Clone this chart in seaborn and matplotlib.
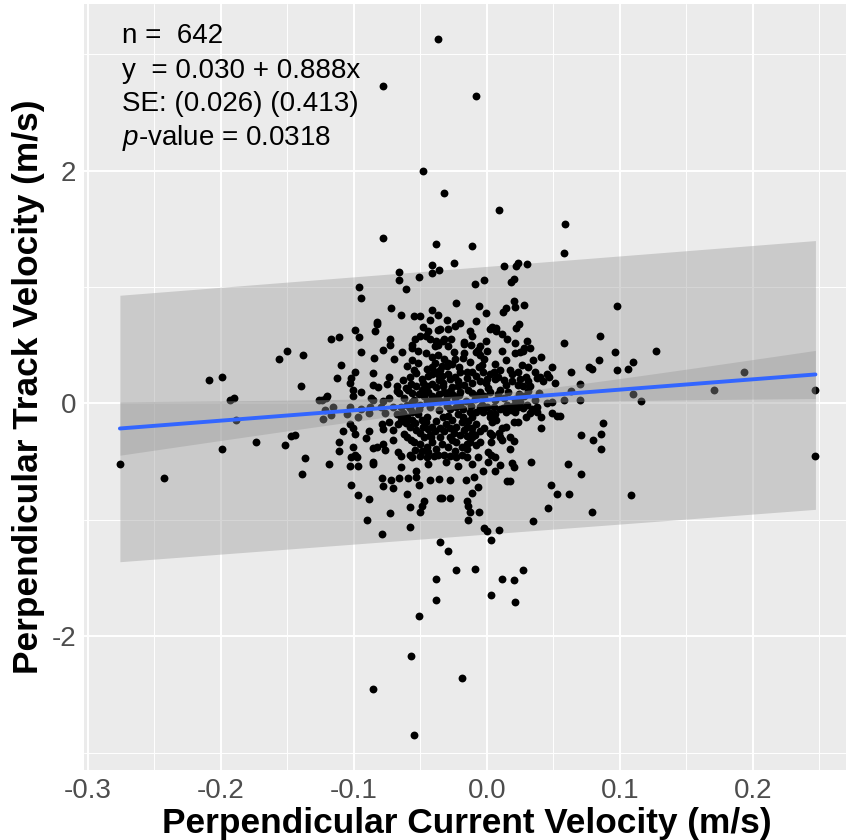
import numpy as np
import pandas as pd
import matplotlib
matplotlib.use("Agg")
import matplotlib.pyplot as plt
import matplotlib.ticker as mticker
import seaborn as sns

# --- 1. Data: (current velocity, track velocity) in m/s ---

top_outliers = [(-0.037, 3.13), (-0.078, 2.73), (-0.008, 2.64), (-0.048, 2.00), (-0.032, 1.81),
                (0.009, 1.66), (0.059, 1.54), (-0.078, 1.42), (-0.038, 1.37), (-0.011, 1.35)]

bottom_outliers = [(-0.038, -1.51), (-0.023, -1.43), (-0.009, -1.42), (0.011, -1.51), (0.020, -1.52),
                   (0.027, -1.43), (-0.038, -1.69), (0.003, -1.65), (0.021, -1.71), (-0.051, -1.83),
                   (-0.057, -2.17), (-0.019, -2.36), (-0.086, -2.45), (-0.055, -2.85)]

left_points = [(-0.150, 0.45), (-0.156, 0.38), (-0.138, 0.42), (-0.209, 0.20), (-0.199, 0.23),
               (-0.140, 0.15), (-0.193, 0.03), (-0.190, 0.05), (-0.189, -0.14), (-0.126, 0.03),
               (-0.174, -0.33), (-0.199, -0.39), (-0.152, -0.36), (-0.147, -0.28), (-0.144, -0.27),
               (-0.137, -0.47), (-0.139, -0.61), (-0.276, -0.52), (-0.243, -0.64)]

right_points = [(0.058, 1.29), (0.098, 0.84), (0.085, 0.58), (0.058, 0.52), (0.096, 0.44),
                (0.127, 0.45), (0.084, 0.37), (0.110, 0.36), (0.079, 0.30), (0.077, 0.31),
                (0.098, 0.29), (0.106, 0.30), (0.063, 0.27), (0.070, 0.17), (0.063, 0.11),
                (0.058, 0.03), (0.070, 0.03), (0.110, 0.08), (0.116, 0.02), (0.171, 0.12),
                (0.193, 0.27), (0.247, 0.12), (0.247, -0.45), (0.055, -0.11), (0.087, -0.17),
                (0.086, -0.26), (0.071, -0.27), (0.080, -0.31), (0.086, -0.39), (0.061, -0.52),
                (0.071, -0.61), (0.062, -0.78), (0.108, -0.79), (0.079, -0.93)]

upper_left_core = [(-0.041, 1.19), (-0.036, 1.15), (-0.041, 1.12), (-0.066, 1.13), (-0.066, 1.06),
                   (-0.051, 1.09), (-0.061, 0.98), (-0.096, 1.00), (-0.095, 0.91), (-0.072, 0.82),
                   (-0.065, 0.76), (-0.055, 0.75), (-0.050, 0.75), (-0.041, 0.80), (-0.037, 0.76),
                   (-0.043, 0.72), (-0.083, 0.70), (-0.083, 0.68), (-0.099, 0.63), (-0.084, 0.62),
                   (-0.096, 0.57), (-0.117, 0.55), (-0.111, 0.57), (-0.073, 0.55), (-0.073, 0.50),
                   (-0.078, 0.46), (-0.095, 0.44), (-0.085, 0.39), (-0.110, 0.33), (-0.113, 0.22),
                   (-0.099, 0.27), (-0.102, 0.22), (-0.103, 0.18), (-0.101, 0.12), (-0.095, 0.10),
                   (-0.086, 0.26), (-0.086, 0.16), (-0.082, 0.14), (-0.074, 0.23), (-0.075, 0.17),
                   (-0.120, 0.06), (-0.050, 0.58), (-0.054, 0.55), (-0.056, 0.50), (-0.056, 0.48),
                   (-0.044, 0.62), (-0.046, 0.58), (-0.043, 0.55), (-0.037, 0.63), (-0.038, 0.54),
                   (-0.039, 0.49), (-0.037, 0.50), (-0.033, 0.54), (-0.052, 0.45), (-0.046, 0.43),
                   (-0.056, 0.37), (-0.041, 0.40), (-0.039, 0.35), (-0.041, 0.31), (-0.038, 0.27),
                   (-0.037, 0.25), (-0.041, 0.25), (-0.034, 0.32), (-0.034, 0.24), (-0.055, 0.29),
                   (-0.053, 0.26), (-0.058, 0.23), (-0.068, 0.15), (-0.068, 0.11), (-0.061, 0.13),
                   (-0.056, 0.09), (-0.053, 0.15), (-0.048, 0.18), (-0.049, 0.12), (-0.045, 0.15),
                   (-0.041, 0.17), (-0.038, 0.14), (-0.033, 0.15), (-0.041, 0.06), (-0.074, 0.05),
                   (-0.087, 0.05), (-0.101, 0.06)]

upper_right_core = [(-0.025, 1.21), (0.013, 1.18), (0.023, 1.21), (0.022, 1.18), (0.030, 1.20),
                    (-0.009, 1.03), (-0.002, 1.06), (0.020, 1.07), (0.018, 1.04), (-0.023, 0.86),
                    (-0.006, 0.84), (-0.001, 0.78), (0.020, 0.88), (0.021, 0.83), (0.028, 0.85),
                    (0.012, 0.79), (0.014, 0.82), (-0.008, 0.71), (0.024, 0.68), (0.022, 0.65),
                    (-0.024, 0.67), (-0.020, 0.69), (-0.029, 0.64), (-0.035, 0.64), (0.002, 0.64),
                    (0.004, 0.66), (0.007, 0.65), (0.007, 0.62), (-0.011, 0.58), (-0.001, 0.54),
                    (-0.017, 0.53), (-0.017, 0.51), (-0.032, 0.55), (-0.027, 0.55), (-0.029, 0.49),
                    (0.021, 0.52), (0.030, 0.54), (-0.005, 0.49), (-0.007, 0.46), (-0.005, 0.42),
                    (0.000, 0.45), (-0.008, 0.44), (0.011, 0.45), (0.021, 0.43), (0.025, 0.44),
                    (0.028, 0.48), (0.032, 0.48), (0.027, 0.45), (0.035, 0.37), (0.041, 0.40),
                    (-0.017, 0.43), (-0.018, 0.39), (-0.024, 0.38), (-0.026, 0.34), (-0.032, 0.38),
                    (-0.030, 0.32), (-0.035, 0.29), (-0.004, 0.33), (-0.006, 0.31), (-0.011, 0.27),
                    (-0.015, 0.27), (-0.020, 0.27), (-0.024, 0.23), (-0.028, 0.21), (-0.033, 0.18),
                    (-0.035, 0.23), (0.005, 0.27), (0.002, 0.25), (-0.003, 0.27), (0.000, 0.21),
                    (0.006, 0.21), (-0.005, 0.19), (-0.011, 0.18), (-0.017, 0.16), (-0.022, 0.15),
                    (-0.026, 0.14), (-0.032, 0.10), (0.017, 0.29), (0.019, 0.25), (0.023, 0.27),
                    (0.019, 0.19), (0.025, 0.21), (0.029, 0.23), (0.031, 0.19), (0.032, 0.15),
                    (0.027, 0.15), (0.023, 0.16), (0.014, 0.16), (0.026, 0.33), (0.031, 0.31),
                    (0.036, 0.27), (0.040, 0.23), (0.045, 0.25), (0.049, 0.31), (0.047, 0.23),
                    (0.051, 0.18), (0.042, 0.19), (0.038, 0.22), (0.010, 0.12), (0.002, 0.10),
                    (-0.005, 0.10), (-0.011, 0.09), (-0.020, 0.10), (-0.026, 0.08), (-0.030, 0.06)]

lower_left_core = [(-0.124, 0.03), (-0.121, 0.05), (-0.122, -0.06), (-0.116, -0.03), (-0.123, -0.13),
                   (-0.117, -0.10), (-0.105, -0.09), (-0.103, -0.03), (-0.095, -0.05), (-0.097, -0.12),
                   (-0.089, -0.08), (-0.088, -0.03), (-0.086, 0.03), (-0.078, 0.02), (-0.080, -0.03),
                   (-0.103, -0.18), (-0.101, -0.21), (-0.108, -0.24), (-0.099, -0.26), (-0.089, -0.24),
                   (-0.091, -0.30), (-0.111, -0.33), (-0.111, -0.41), (-0.101, -0.37), (-0.099, -0.44),
                   (-0.102, -0.46), (-0.098, -0.46), (-0.103, -0.54), (-0.097, -0.54), (-0.119, -0.52),
                   (-0.086, -0.50), (-0.086, -0.52), (-0.086, -0.38), (-0.083, -0.37), (-0.078, -0.35),
                   (-0.077, -0.40), (-0.079, -0.18), (-0.074, -0.16), (-0.078, -0.22), (-0.071, -0.23),
                   (-0.071, -0.31), (-0.067, -0.18), (-0.065, -0.15), (-0.067, -0.42), (-0.065, -0.55),
                   (-0.066, -0.64), (-0.079, -0.64), (-0.072, -0.66), (-0.078, -0.71), (-0.071, -0.73),
                   (-0.102, -0.70), (-0.097, -0.79), (-0.089, -0.82), (-0.090, -1.00), (-0.073, -0.94),
                   (-0.079, -1.12), (-0.060, -0.78), (-0.058, -0.89), (-0.058, -1.06), (-0.050, -0.93),
                   (-0.049, -0.88), (-0.047, -0.84), (-0.059, -0.64), (-0.053, -0.58), (-0.053, -0.63),
                   (-0.051, -0.70), (-0.043, -0.66), (-0.036, -0.65), (-0.035, -0.81), (-0.035, -1.19),
                   (-0.065, -0.45), (-0.058, -0.44), (-0.056, -0.46), (-0.055, -0.33), (-0.060, -0.29),
                   (-0.062, -0.26), (-0.058, -0.20), (-0.054, -0.17), (-0.056, -0.14), (-0.060, -0.12),
                   (-0.065, -0.12), (-0.068, -0.09), (-0.063, -0.08), (-0.056, -0.07), (-0.052, -0.09),
                   (-0.049, -0.14), (-0.045, -0.12), (-0.048, -0.20), (-0.044, -0.22), (-0.050, -0.25),
                   (-0.047, -0.29), (-0.043, -0.27), (-0.041, -0.20), (-0.039, -0.24), (-0.035, -0.21),
                   (-0.035, -0.29), (-0.041, -0.33), (-0.045, -0.37), (-0.038, -0.39), (-0.044, -0.42),
                   (-0.049, -0.41), (-0.045, -0.46), (-0.037, -0.44), (-0.050, -0.45), (-0.071, -0.03),
                   (-0.065, -0.03), (-0.060, -0.01), (-0.056, 0.01), (-0.050, -0.01), (-0.045, 0.02),
                   (-0.041, 0.01), (-0.035, 0.02)]

lower_right_core = [(-0.033, -0.12), (-0.029, -0.11), (-0.026, -0.14), (-0.022, -0.09), (-0.018, -0.12),
                    (-0.014, -0.15), (-0.011, -0.12), (-0.008, -0.18), (-0.011, -0.21), (-0.015, -0.20),
                    (-0.019, -0.16), (-0.023, -0.20), (-0.028, -0.21), (-0.032, -0.24), (-0.028, -0.29),
                    (-0.023, -0.33), (-0.015, -0.28), (-0.011, -0.25), (-0.013, -0.33), (-0.029, -0.37),
                    (-0.024, -0.41), (-0.028, -0.45), (-0.023, -0.46), (-0.015, -0.39), (-0.015, -0.46),
                    (-0.011, -0.52), (-0.022, -0.54), (-0.032, -0.44), (-0.028, -0.05), (-0.023, -0.03),
                    (-0.018, -0.05), (-0.013, -0.07), (-0.008, -0.07), (-0.005, -0.03), (0.000, -0.03),
                    (-0.003, -0.07), (0.002, -0.12), (0.004, -0.16), (0.002, -0.25), (0.004, -0.27),
                    (0.011, -0.21), (0.014, -0.20), (0.020, -0.16), (0.023, -0.16), (0.021, -0.07),
                    (0.023, -0.03), (0.029, -0.12), (0.032, -0.08), (0.038, -0.07), (0.041, -0.12),
                    (0.038, -0.03), (0.049, -0.08), (0.053, -0.11), (0.041, -0.21), (0.010, -0.29),
                    (0.011, -0.31), (0.017, -0.29), (0.020, -0.32), (0.017, -0.39), (0.001, -0.42),
                    (0.003, -0.44), (0.006, -0.46), (0.001, -0.50), (0.010, -0.53), (0.006, -0.58),
                    (-0.003, -0.58), (0.019, -0.51), (0.020, -0.55), (-0.010, -0.63), (-0.016, -0.66),
                    (-0.028, -0.66), (0.015, -0.67), (0.017, -0.67), (-0.007, -0.72), (-0.011, -0.77),
                    (-0.028, -0.81), (-0.034, -0.81), (-0.015, -0.84), (-0.014, -0.88), (-0.013, -0.93),
                    (-0.006, -0.93), (-0.014, -1.00), (-0.002, -1.07), (0.000, -1.10), (0.009, -1.09),
                    (0.003, -1.17), (-0.029, -1.27), (0.033, -0.50), (0.048, -0.70), (0.053, -0.78),
                    (0.046, -0.90), (0.035, -1.01), (0.049, 0.01), (0.045, 0.00), (0.002, -0.08),
                    (0.006, -0.09), (0.010, -0.05), (0.015, -0.01), (0.020, -0.01), (0.025, 0.01),
                    (0.030, -0.01), (0.014, -0.07), (-0.005, -0.24), (-0.011, -0.29), (-0.005, -0.33),
                    (-0.015, -0.35), (-0.020, -0.27)]

# overlapping points hidden inside the solid black centre, estimated by eye
dense_core = [(-0.062, 0.05), (-0.055, 0.03), (-0.047, 0.06), (-0.039, 0.04), (-0.031, 0.03),
              (-0.024, 0.05), (-0.016, 0.02), (-0.009, 0.04), (-0.002, 0.06), (0.006, 0.03),
              (0.013, 0.05), (0.021, 0.04), (0.028, 0.06), (0.036, 0.03), (-0.058, -0.04),
              (-0.051, -0.05), (-0.043, -0.03), (-0.036, -0.06), (-0.030, -0.02), (-0.020, -0.01),
              (-0.012, -0.02), (-0.004, -0.01), (0.005, -0.03), (0.012, -0.04), (0.018, -0.06),
              (0.027, -0.04), (0.034, -0.05), (-0.066, 0.09), (-0.059, 0.12), (-0.051, 0.08),
              (-0.044, 0.10), (-0.036, 0.08), (-0.028, 0.11), (-0.021, 0.07), (-0.014, 0.12),
              (-0.007, 0.07), (0.001, 0.13), (0.008, 0.08), (0.016, 0.10), (0.024, 0.08),
              (0.031, 0.11), (0.039, 0.09), (-0.063, 0.20), (-0.057, 0.17), (-0.049, 0.21),
              (-0.044, 0.24), (-0.036, 0.20), (-0.029, 0.25), (-0.022, 0.19), (-0.015, 0.22),
              (-0.008, 0.24), (-0.001, 0.18), (0.008, 0.23), (0.013, 0.20), (-0.060, 0.32),
              (-0.052, 0.35), (-0.045, 0.30), (-0.037, 0.42), (-0.029, 0.35), (-0.021, 0.31),
              (-0.013, 0.36), (-0.002, 0.38), (0.006, 0.34), (0.014, 0.37), (0.010, 0.29),
              (-0.061, -0.17), (-0.053, -0.23), (-0.046, -0.16), (-0.038, -0.15), (-0.031, -0.18),
              (-0.025, -0.25), (-0.017, -0.23), (-0.009, -0.27), (-0.002, -0.21), (0.007, -0.14),
              (0.009, -0.25), (-0.057, -0.31), (-0.050, -0.35), (-0.042, -0.29), (-0.034, -0.35),
              (-0.026, -0.31), (-0.019, -0.37), (-0.008, -0.36), (0.003, -0.33), (-0.054, -0.40),
              (-0.040, -0.45), (-0.031, -0.50), (-0.019, -0.44), (-0.007, -0.46), (-0.044, -0.52),
              (-0.070, 0.38), (-0.064, 0.44), (-0.025, 0.44), (-0.012, 0.50), (0.015, 0.55),
              (-0.048, 0.66), (-0.030, 0.72), (-0.013, 0.62), (0.011, 0.60), (-0.077, -0.08)]

# Regression summary printed on the figure
N_OBS = 642
INTERCEPT, SLOPE = 0.030, 0.888
SE_INTERCEPT, SE_SLOPE = 0.026, 0.413
P_VALUE = 0.0318

# Prediction band edges read at the ends of the x range
PI_X = [-0.276, 0.247]
PI_LOWER = [-1.36, -0.91]
PI_UPPER = [0.93, 1.40]

X_TICKS = [-0.3, -0.2, -0.1, 0.0, 0.1, 0.2]
X_TICK_LABELS = ['-0.3', '-0.2', '-0.1', '0.0', '0.1', '0.2']
Y_TICKS = [-2, 0, 2]
Y_TICK_LABELS = ['-2', '0', '2']

# --- 2. Build the frame and the fitted line ---

groups = [top_outliers, bottom_outliers, left_points, right_points, upper_left_core,
          upper_right_core, lower_left_core, lower_right_core, dense_core]
df = pd.DataFrame([p for g in groups for p in g], columns=['current_vel', 'track_vel'])

fit_x = np.linspace(PI_X[0], PI_X[1], 120)
fit_y = INTERCEPT + SLOPE * fit_x
fit_se = np.sqrt(SE_INTERCEPT ** 2 + (fit_x * SE_SLOPE) ** 2)
t_crit = 1.964

# --- 3. Plot (ggplot grey look) ---

sns.set_style('darkgrid', rc={'axes.facecolor': '#EBEBEB', 'grid.color': 'white'})
plt.rcParams['font.family'] = ['Liberation Sans', 'DejaVu Sans']
plt.rcParams['mathtext.fontset'] = 'custom'
plt.rcParams['mathtext.rm'] = 'Liberation Sans'
plt.rcParams['mathtext.it'] = 'Liberation Sans:italic'
plt.rcParams['axes.unicode_minus'] = False

fig = plt.figure(figsize=(8.46, 8.40), dpi=100)
ax = fig.add_axes([84 / 846, 1 - 770 / 840, 766 / 846, 766 / 840])

ax.fill_between(PI_X, PI_LOWER, PI_UPPER, color='#999999', alpha=0.4, lw=0, zorder=1)
sns.scatterplot(data=df, x='current_vel', y='track_vel', color='black', s=32,
                linewidth=0, ax=ax, zorder=2)
ax.fill_between(fit_x, fit_y - t_crit * fit_se, fit_y + t_crit * fit_se,
                color='#999999', alpha=0.4, lw=0, zorder=3)
sns.lineplot(x=fit_x, y=fit_y, color='#3366FF', lw=2.8, ax=ax, zorder=4)

ax.set_xlim(-0.303, 0.273)
ax.set_ylim(-3.15, 3.433)
ax.set_xticks(X_TICKS)
ax.set_xticklabels(X_TICK_LABELS)
ax.set_yticks(Y_TICKS)
ax.set_yticklabels(Y_TICK_LABELS)
ax.xaxis.set_minor_locator(mticker.FixedLocator([-0.25, -0.15, -0.05, 0.05, 0.15, 0.25]))
ax.yaxis.set_minor_locator(mticker.FixedLocator([-3, -1, 1, 3]))
ax.grid(which='major', color='white', lw=1.4)
ax.grid(which='minor', color='white', lw=0.7)
ax.set_axisbelow(True)
ax.tick_params(which='major', length=3.5, width=0.8, color='#333333', labelsize=20,
               labelcolor='#4D4D4D', pad=2)
ax.tick_params(which='minor', length=0)
for s in ax.spines.values():
    s.set_visible(False)
ax.set_xlabel('')
ax.set_ylabel('')

fig.text(467 / 846, 1 - 833 / 840, 'Perpendicular Current Velocity (m/s)', fontsize=25.4,
         fontweight='bold', ha='center', va='baseline', color='black')
fig.text(38 / 846, 1 - 387 / 840, 'Perpendicular Track Velocity (m/s)', fontsize=25.4,
         fontweight='bold', ha='center', va='baseline', rotation=90, rotation_mode='anchor',
         color='black')

ann_lines = [f'n =  {N_OBS}',
             f'y  = {INTERCEPT:.3f} + {SLOPE:.3f}x',
             f'SE: ({SE_INTERCEPT:.3f}) ({SE_SLOPE:.3f})',
             r'$\it{p}$' + f'-value = {P_VALUE}']
for line, base in zip(ann_lines, [43, 77.5, 111, 145]):
    fig.text(122 / 846, 1 - base / 840, line, fontsize=20, ha='left', va='baseline', color='black')

fig.savefig('out.png', dpi=100)
